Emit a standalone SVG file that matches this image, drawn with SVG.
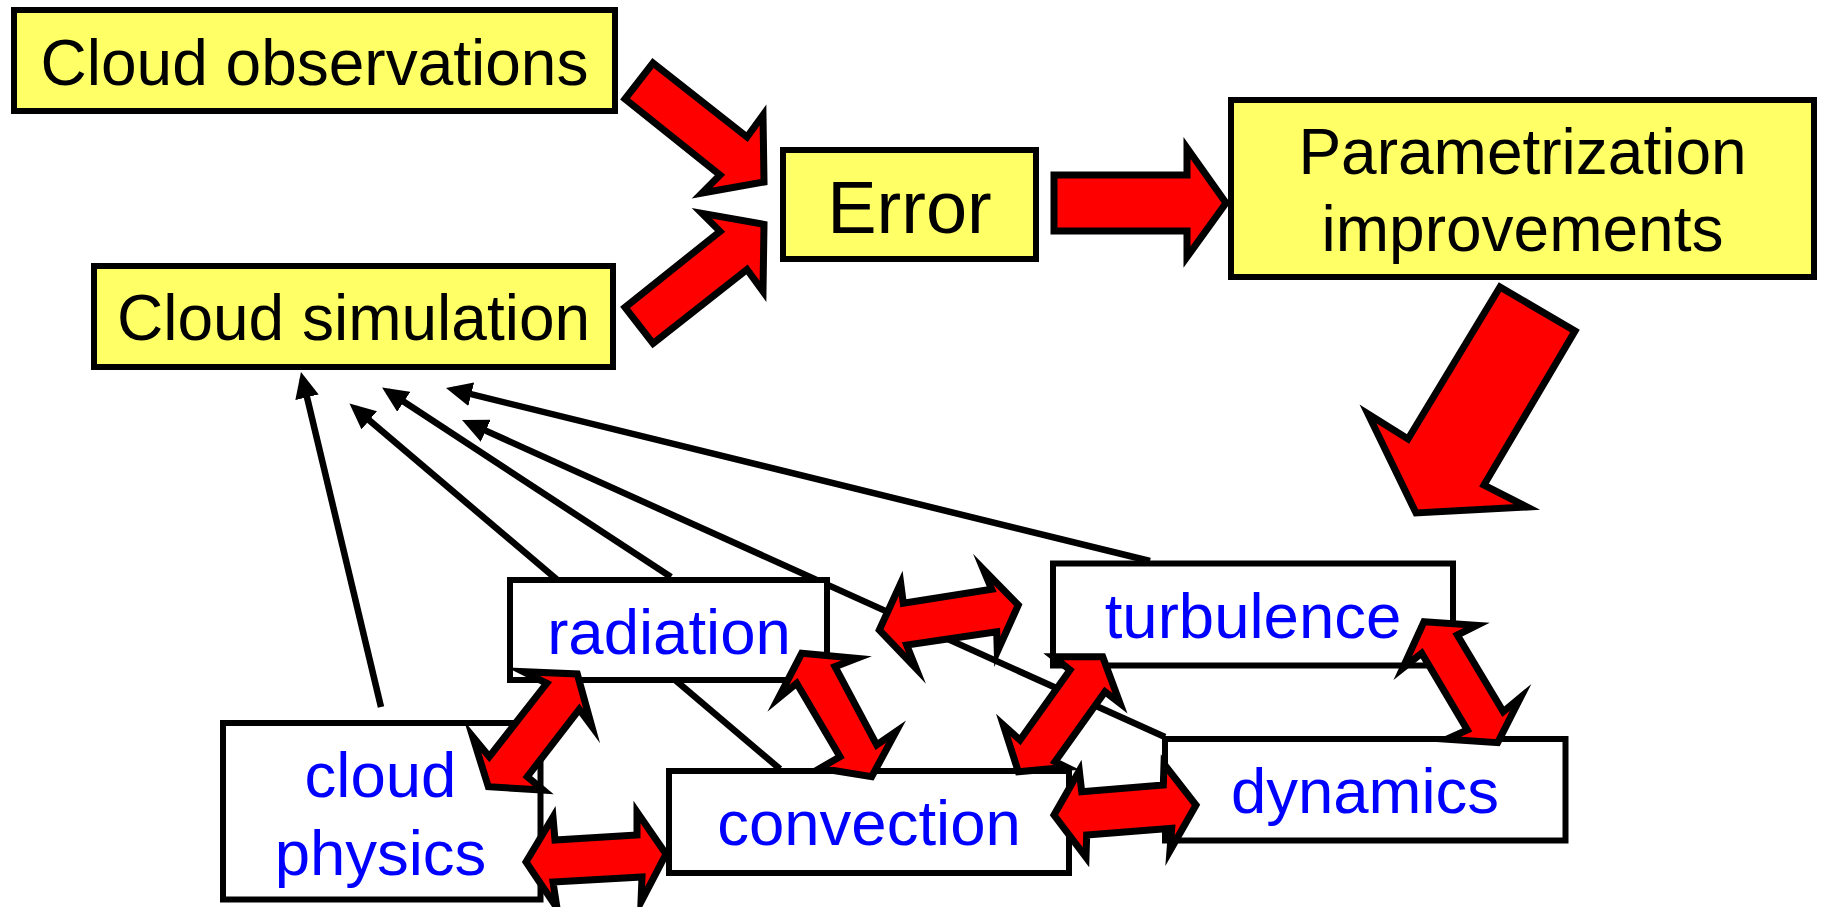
<svg xmlns="http://www.w3.org/2000/svg" width="1821" height="907" viewBox="0 0 1821 907">
  <defs>
    <style>
      .box { stroke: #000; stroke-width: 6; }
      .yellow { fill: #FFFF66; }
      .white { fill: #FFFFFF; }
      .label { font-family: "Liberation Sans", Arial, sans-serif; text-anchor: middle; }
      .dark { fill: #000; font-size: 64px; }
      .blue { fill: #0000FF; font-size: 63.5px; }
      .link { stroke: #000; stroke-width: 6.5; fill: none; marker-end: url(#head); }
      .block { fill: #FF0000; stroke: #000; stroke-width: 7; stroke-linejoin: miter; stroke-miterlimit: 8; }
    </style>
    <marker id="head" markerUnits="userSpaceOnUse" markerWidth="26" markerHeight="24" viewBox="0 0 26 24" refX="19" refY="12" orient="auto">
      <path d="M0,0 L26,12 L0,24 z" fill="#000"/>
    </marker>
  </defs>

  <!-- thin influence links towards the simulation box -->
  <g id="connectors">
    <line class="link" x1="381" y1="707" x2="302.6" y2="378.8"/>
    <line class="link" x1="780" y1="769" x2="354.8" y2="408"/>
    <line class="link" x1="671" y1="577" x2="387.9" y2="391.3"/>
    <line class="link" x1="1165" y1="737" x2="468.4" y2="422.9"/>
    <line class="link" x1="1150" y1="561" x2="452.8" y2="389.7"/>
  </g>

  <g id="cloud-observations">
    <rect class="box yellow" x="14" y="10" width="601" height="101"/>
    <text class="label dark" x="314.5" y="85">Cloud observations</text>
  </g>
  <g id="cloud-simulation">
    <rect class="box yellow" x="94" y="266" width="519" height="101"/>
    <text class="label dark" x="353.5" y="340">Cloud simulation</text>
  </g>
  <g id="error">
    <rect class="box yellow" x="783" y="150" width="253" height="109"/>
    <text class="label dark" x="909.5" y="232.5" style="font-size:74px">Error</text>
  </g>
  <g id="parametrization">
    <rect class="box yellow" x="1231" y="100" width="583" height="177"/>
    <text class="label dark" x="1522.5" y="174">Parametrization</text>
    <text class="label dark" x="1522.5" y="250.5">improvements</text>
  </g>

  <g id="radiation">
    <rect class="box white" x="510" y="580" width="317" height="100"/>
    <text class="label blue" x="669" y="654">radiation</text>
  </g>
  <g id="cloud-physics">
    <rect class="box white" x="223" y="723" width="317.5" height="176.5"/>
    <text class="label blue" x="380.5" y="797">cloud</text>
    <text class="label blue" x="380.5" y="875">physics</text>
  </g>
  <g id="convection">
    <rect class="box white" x="669" y="771" width="400" height="102"/>
    <text class="label blue" x="869" y="845">convection</text>
  </g>
  <g id="turbulence">
    <rect class="box white" x="1053" y="563.5" width="400" height="102"/>
    <text class="label blue" x="1253" y="638">turbulence</text>
  </g>
  <g id="dynamics">
    <rect class="box white" x="1165" y="739" width="400.5" height="101.5"/>
    <text class="label blue" x="1365" y="813">dynamics</text>
  </g>

  <!-- red block arrows -->
  <g id="block-arrows">
    <polygon class="block" points="653,63 747,137 763,115 764,182 702,193 720,175 625,99"/>
    <polygon class="block" points="653,343.4 747,269.4 763,291.4 764,224.4 702,213.4 720,231.4 625,307.4"/>
    <polygon class="block" points="1054,175 1187,175 1187,148 1226,203 1187,257 1187,231 1054,231"/>
    <polygon class="block" points="1500,287 1575,331 1484,485 1527,507 1416,513 1368,414 1408,439"/>

    <polygon class="block" points="577.3,674 591.7,726 579.3,709.3 527.3,776.7 543.3,790 488.3,786.7 472.7,736.7 489.3,756.7 546.7,683.3 523.3,671.7"/>
    <polygon class="block" points="526,862 553,817 555,840 637,835 637,812 666,854 641,902 642,877 553,882 557,908"/>
    <polygon class="block" points="801.7,653.3 856.7,658.3 835,666.7 876.7,745 896,731.7 871.7,776.7 820,768.3 840,756.7 796.7,683.3 778.3,698.3"/>
    <polygon class="block" points="879.3,630 900.7,583.3 903.3,603.3 991.7,589.3 983.3,569.3 1018.3,605 997.3,651.7 996.7,631.7 906.7,645 916,668.3"/>
    <polygon class="block" points="1102.7,656.7 1120,703.3 1105,691.7 1055,761.7 1066.7,767.3 1018.3,771.7 1003.3,725 1020,740 1070,670 1053.3,656.7"/>
    <polygon class="block" points="1054,815 1079.3,770.7 1081.7,791.7 1163.3,785 1164,764 1196,805 1170,850.7 1171.7,828.3 1086.7,835 1086,857.3"/>
    <polygon class="block" points="1424,621.7 1476.7,625.3 1457.3,635 1503.3,711.7 1520.7,697.3 1497.7,742.7 1446.7,739.3 1467.3,730 1421.7,653.3 1402.7,668.3"/>
  </g>
</svg>
